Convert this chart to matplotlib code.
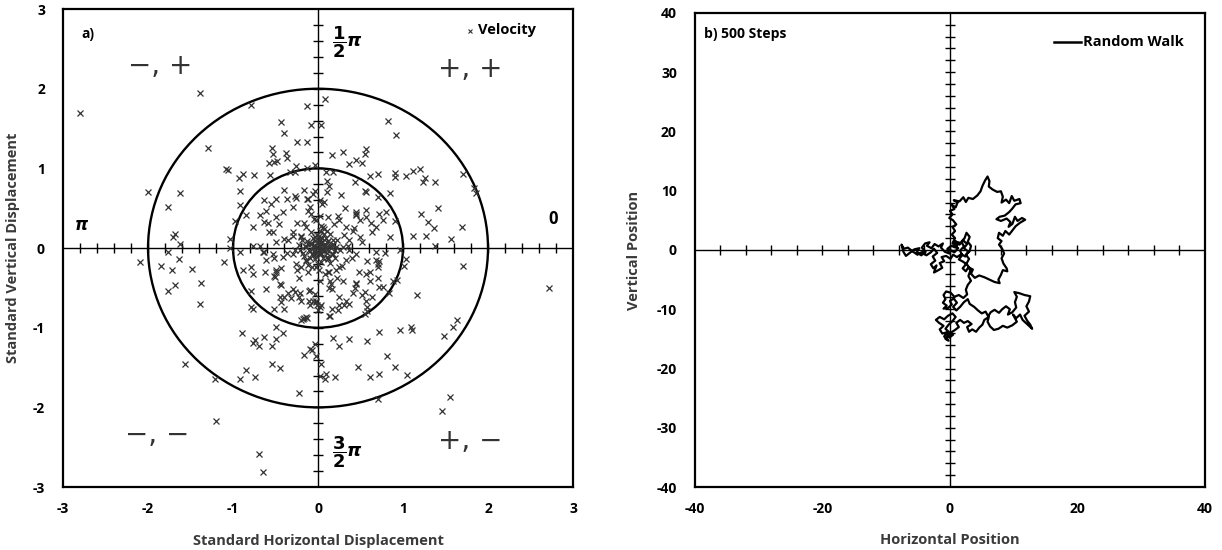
import numpy as np
import matplotlib.pyplot as plt
from matplotlib.patches import Circle

plt.rcParams['font.family'] = ['Open Sans', 'DejaVu Sans']
plt.rcParams['mathtext.fontset'] = 'dejavusans'

# a) standardised velocity samples (horizontal, vertical)
vel_x = [
    -2.80, -1.39, -0.79, -0.13, 0.08, -0.43, -0.40, -0.08, 0.04, 0.82, 0.92, -1.30, -0.25, -0.13,
    -0.54, -0.53, -0.52, -0.38, -0.37, -0.58, -0.48, 0.17, 0.29, 0.56, 0.55, 0.45, 0.36, 0.52,
    -0.04, -0.26, -1.08, -1.06, -0.93, -0.88, -0.75, -0.56, -0.33, -0.27, -0.13, 0.09, 0.18, 0.13,
    0.11, 0.43, 0.61, 0.70, 0.90, 0.90, 1.03, 1.12, 1.20, 1.23, 1.26, 1.38, 1.71, 1.83, 1.86,
    -2.00, -1.62, -1.77, -0.92, -0.92, -0.63, -0.49, -0.40, -0.27, -0.16, -0.13, -0.04, 0.07, 0.27,
    0.55, 0.56, 0.70, 0.85, 1.41, 1.21, 1.29, 1.37, 1.69, 1.57, 1.38, 1.27, 1.12, 0.90, 0.85, 0.72,
    0.57, 0.45, -0.98, -0.85, -0.76, -0.63, -1.03, -1.03, -1.68, -1.71, -1.62, -1.76, -2.09, -1.85,
    -1.72, -1.64, -1.48, -1.68, -1.76, -1.38, -1.39, -1.11, -0.92, -0.76, -0.65, -0.88, -0.79, -0.76,
    -0.79, -0.61, -0.52, -0.49, -0.45, -0.40, -0.44, -0.32, -0.27, -0.22, -0.11, -0.11, -0.02, -0.01,
    0.04, -0.79, -0.76, -0.52, -0.40, -0.16, -0.13, -0.20, 0.13, 0.16, 0.13, 0.22, 0.29, 0.45, 0.43,
    0.52, 0.63, 0.72, 0.76, 0.83, 0.88, 0.93, 0.70, 0.61, 0.70, 0.72, 0.79, 0.97, 1.03, 1.01, 1.71,
    1.17, 2.72, 0.25, 0.16, 0.13, 0.31, 0.36, 0.55, 0.58, 0.58, 0.57, -0.90, -0.74, -0.76, -0.63,
    -0.70, -0.54, -0.49, -0.50, -0.41, -0.54, -0.45, -0.85, -0.92, -0.74, -1.21, -1.56, -1.20, -0.70,
    -0.65, -0.22, -0.17, -0.10, -0.04, -0.07, -0.02, 0.04, 0.02, 0.09, 0.08, 0.20, 0.18, 0.25, 0.37,
    0.58, 0.72, 0.97, 1.09, 1.10, 0.81, 0.90, 0.47, 0.61, 0.72, 1.05, 0.70, 1.48, 1.59, 1.64, 1.55,
    1.46,
    -0.14, -0.25, -0.20, -0.29, -0.35, -0.49, -0.53, -0.41, -0.29, -0.21, -0.14, -0.08, -0.04, 0.02,
    0.06, 0.10, 0.02, -0.06, -0.14, -0.20, -0.25, -0.12, -0.02, 0.04, 0.12, 0.18, 0.21, 0.18, 0.14,
    0.06, -0.02, -0.08, -0.10, -0.12, -0.06, 0.02, 0.12, 0.25, 0.33, 0.41, 0.49, 0.37, 0.29, 0.37,
    0.45, 0.33, 0.25, 0.21, 0.12, 0.14, 0.02, -0.10, -0.21, -0.35, -0.45, -0.49, -0.51, -0.61, -0.64,
    -0.53, -0.59, -0.49, -0.41, -0.29, -0.37, -0.61, -0.68, 0.64, 0.68, 0.76, 0.80, 0.57, 0.49, 0.45,
    0.57, 0.61, 0.68, 0.70, 0.45, 0.41, 0.33, 0.23, 0.14, -0.02, 0.02, 0.00, -0.06, -0.20, -0.14,
    -0.18,
]
vel_y = [
    1.69, 1.95, 1.79, 1.78, 1.87, 1.58, 1.44, 1.54, 1.54, 1.60, 1.42, 1.25, 1.33, 1.33,
    1.25, 1.18, 1.08, 1.19, 1.13, 1.07, 1.09, 1.17, 1.20, 1.24, 1.18, 1.10, 1.05, 1.07,
    1.04, 1.03, 0.99, 0.98, 0.88, 0.93, 0.92, 0.92, 0.95, 0.96, 1.00, 0.95, 0.95, 0.78,
    0.84, 0.83, 0.91, 0.93, 0.94, 0.89, 0.91, 0.97, 0.99, 0.83, 0.88, 0.83, 0.93, 0.76, 0.69,
    0.70, 0.69, 0.52, 0.72, 0.54, 0.60, 0.62, 0.73, 0.65, 0.73, 0.62, 0.71, 0.58, 0.67,
    0.72, 0.70, 0.64, 0.69, 0.50, 0.43, 0.33, 0.25, 0.26, 0.11, 0.03, 0.15, 0.15, 0.34, 0.14, 0.43,
    0.48, 0.43, 0.34, 0.41, 0.27, 0.33, 0.11, 0.00, 0.18, 0.14, 0.05, -0.05, -0.18, -0.22,
    -0.27, -0.14, -0.26, -0.46, -0.54, -0.44, -0.70, -0.18, -0.05, 0.03, -0.05, -0.27, -0.24, -0.33,
    -0.54, -0.52, -0.35, -0.28, -0.45, -0.61, -0.68, -0.63, -0.55, -0.61, -0.54, -0.66, -0.66, -0.72,
    -0.71, -0.74, -0.77, -0.76, -0.76, -0.88, -0.88, -0.90, -0.50, -0.52, -0.30, -0.37, -0.41, -0.44, -0.50,
    -0.59, -0.61, -0.49, -0.49, -0.57, -0.41, -0.40, -0.37, -0.30, -0.24, -0.16, -0.06, -0.02, -0.14, -0.23, -0.23,
    -0.59, -0.50, -0.72, -0.77, -0.85, -0.72, -0.70, -0.83, -0.79, -0.74, -0.67, -1.07, -1.15, -1.19, -1.12,
    -1.23, -1.23, -1.14, -0.99, -1.07, -1.45, -1.51, -1.53, -1.65, -1.62, -1.65, -1.45, -2.17, -2.59,
    -2.81, -1.82, -1.34, -1.27, -1.21, -1.28, -1.35, -1.45, -1.60, -1.58, -1.64, -1.62, -1.13, -1.23, -1.14,
    -1.17, -1.05, -1.03, -0.99, -1.03, -1.36, -1.49, -1.49, -1.62, -1.58, -1.59, -1.89, -1.10, -0.99, -0.90, -1.87,
    -2.04,
    0.26, 0.31, 0.14, 0.20, 0.10, 0.08, -0.07, -0.11, -0.07, -0.03, 0.01, 0.05, 0.14, 0.10,
    0.03, -0.03, -0.07, -0.09, -0.15, -0.24, -0.28, -0.30, -0.24, -0.18, -0.13, -0.07, 0.01, 0.10, 0.18,
    0.26, 0.35, 0.43, 0.51, 0.62, 0.68, 0.60, 0.39, 0.35, 0.26, 0.22, 0.14, 0.10, 0.01, -0.03,
    -0.07, -0.15, -0.24, -0.28, -0.30, -0.41, -0.41, -0.53, -0.57, -0.57, -0.62, -0.30, -0.36, -0.15, -0.05,
    0.20, 0.31, 0.39, 0.45, 0.51, 0.62, 0.47, 0.41, 0.20, 0.26, 0.35, 0.45, 0.39, 0.35, 0.41,
    -0.32, -0.41, -0.15, -0.20, -0.45, -0.57, -0.66, -0.78, -0.85, -0.68, -0.74, -0.78, -0.66, -0.66, -0.87,
    -0.89,
]
# dense core of small velocities around the origin
vel_core = [
    (0.00, 0.00), (0.02, 0.03), (-0.03, 0.02), (0.05, -0.02), (-0.05, -0.04), (0.08, 0.05),
    (-0.08, 0.06), (0.03, -0.08), (-0.02, -0.10), (0.10, -0.06), (-0.11, -0.02), (0.12, 0.09),
    (-0.06, 0.12), (0.01, 0.15), (0.15, 0.00), (-0.15, 0.03), (0.06, -0.13), (-0.09, -0.12),
    (0.04, 0.08), (-0.01, -0.05), (0.09, 0.12), (-0.13, 0.09), (0.11, -0.11), (0.18, 0.05),
    (-0.18, -0.06), (0.02, 0.22), (0.00, -0.20), (0.20, -0.12), (-0.20, 0.15), (0.07, 0.18),
    (0.03, 0.06), (-0.04, 0.09), (0.07, -0.04), (-0.07, -0.07), (0.13, 0.02), (-0.12, 0.05),
    (0.05, 0.13), (-0.03, -0.14), (0.16, -0.08), (-0.16, -0.10), (0.22, 0.10), (-0.22, 0.04),
    (0.10, 0.22), (-0.08, 0.20), (0.14, -0.19), (-0.12, -0.21), (0.26, -0.03), (-0.27, -0.02),
    (0.04, 0.28), (0.01, -0.27), (0.30, 0.17), (-0.30, 0.15), (0.19, 0.30), (-0.17, 0.31),
    (0.28, -0.22), (-0.26, -0.20), (0.08, -0.33), (-0.05, 0.36), (0.35, 0.03), (-0.36, -0.06),
    (0.40, -0.12), (-0.40, 0.11), (0.23, 0.40), (-0.22, -0.38), (0.42, 0.25), (-0.43, -0.25),
    (0.15, -0.45), (-0.12, 0.46), (0.48, -0.30), (-0.46, 0.30), (0.52, 0.08), (-0.52, -0.12),
    (0.32, 0.50), (-0.30, -0.52), (0.05, 0.55), (-0.04, -0.58), (0.58, -0.16), (-0.58, 0.20),
    (0.45, 0.45), (-0.44, -0.46), (0.62, 0.32), (-0.62, -0.30), (0.25, -0.62), (-0.26, 0.63),
    (0.68, -0.05), (-0.68, 0.02), (0.10, 0.70), (-0.10, -0.72), (0.55, -0.55), (-0.55, 0.55),
    (0.02, 0.40), (0.00, 0.08), (0.06, -0.01), (-0.02, 0.01), (0.01, -0.03), (0.09, 0.01),
    (-0.06, 0.02), (0.04, -0.06), (-0.03, -0.06), (0.11, 0.07), (-0.10, -0.04), (0.02, 0.11),
    (-0.01, 0.16), (0.17, 0.04), (-0.14, -0.16), (0.20, -0.02), (-0.19, 0.10), (0.12, -0.14),
    (0.07, 0.24), (-0.07, -0.24),
]

# b) 2-D random walk path, 500 steps
walk_xy = [
    (0.0, 0.0), (0.7, -0.4), (1.3, 0.3), (0.6, 0.9), (1.4, 1.3), (0.9, 0.4), (0.2, 0.7), (-0.4, 0.2),
    (-0.1, -0.6), (-0.8, -0.3), (-1.4, 0.4), (-1.1, 1.1), (-1.8, 0.6), (-2.4, 1.0), (-2.9, 0.3),
    (-3.6, 0.7), (-3.2, 1.3), (-3.9, 1.1), (-4.4, 0.4), (-3.8, -0.3), (-4.5, -0.9), (-5.2, -0.4),
    (-4.8, 0.3), (-5.6, 0.1), (-6.3, -0.5), (-6.9, -1.0), (-7.3, -0.3), (-7.6, 0.9), (-7.2, 0.2),
    (-6.6, 0.4), (-5.9, -0.2), (-5.1, -0.8), (-4.3, -0.3), (-3.7, -0.9), (-3.0, -0.4), (-2.5, 0.2),
    (-2.0, -0.5), (-2.7, -1.1), (-2.3, -1.8), (-3.0, -2.4), (-2.6, -3.1), (-2.1, -2.6), (-2.5, -3.8),
    (-1.8, -3.4), (-1.2, -3.0), (-1.6, -2.2), (-0.9, -1.9), (-1.3, -1.2), (-0.6, -1.0), (0.1, -1.5),
    (0.5, -0.8), (1.1, -1.2), (1.8, -0.7), (2.4, -1.1), (2.9, -0.3), (2.2, 0.3), (2.7, 1.0),
    (2.1, 1.6), (1.5, 0.9), (0.9, 1.5), (0.4, 1.1), (0.8, 2.0), (0.3, 2.6),
    (0.8, 3.2), (0.4, 3.9), (1.0, 4.3), (0.5, 5.0), (-0.1, 5.4), (0.4, 6.0), (0.0, 6.6), (0.7, 6.9),
    (0.3, 7.6), (0.9, 7.2), (1.2, 8.0), (0.6, 8.4), (1.5, 8.2), (2.1, 8.9), (2.5, 8.1), (2.9, 8.8),
    (3.6, 8.6), (4.3, 9.2), (4.8, 9.9), (5.1, 10.8), (5.5, 11.7), (5.9, 12.4), (6.2, 11.6),
    (6.1, 10.7), (6.7, 10.2), (7.4, 9.8), (8.0, 9.9), (8.3, 9.0), (8.1, 8.0), (8.8, 8.5), (9.3, 7.9),
    (9.7, 9.1), (10.1, 8.3), (10.9, 8.6), (11.1, 7.9), (10.3, 7.7), (9.8, 7.0), (9.3, 6.4),
    (8.6, 5.8), (7.8, 5.6), (7.3, 5.2), (8.0, 4.9), (8.9, 5.3), (9.5, 4.7), (9.2, 3.9), (9.8, 4.4),
    (10.2, 5.6), (10.6, 4.9), (11.3, 5.4), (11.8, 5.1), (11.0, 4.6), (10.3, 4.0), (9.8, 3.3),
    (9.3, 2.6), (8.7, 3.2), (8.3, 2.4), (7.7, 2.9), (7.5, 2.0), (8.1, 1.5), (7.7, 0.9), (8.2, 0.2),
    (8.5, -0.6), (8.1, -1.4), (8.4, -2.3), (8.9, -3.1), (9.0, -3.6), (8.3, -3.4), (8.0, -4.2),
    (7.6, -5.0), (7.8, -5.6), (7.0, -5.4), (6.2, -5.0), (5.4, -4.6), (4.6, -4.3), (3.9, -4.7),
    (3.3, -4.0), (3.6, -3.3), (2.9, -2.9), (2.5, -3.6), (2.0, -3.1), (2.6, -2.3), (3.0, -1.5),
    (2.5, -0.8), (3.1, -0.2), (3.3, 0.7), (2.8, 1.4), (3.1, 2.2), (2.6, 2.9), (2.3, 2.0), (1.8, 1.4),
    (2.2, 0.6), (1.6, -0.1), (1.9, -0.9), (1.4, -1.6), (2.1, -2.0), (2.8, -2.6), (3.2, -3.5),
    (2.9, -4.4), (3.3, -5.2), (2.8, -5.9), (2.5, -6.7), (2.7, -7.5),
    (2.1, -8.1), (1.4, -7.6), (0.7, -7.9), (0.1, -7.2), (-0.6, -7.0), (-1.0, -7.6), (-0.7, -8.3),
    (-1.1, -8.9), (-0.5, -9.4), (-1.0, -9.9), (-0.3, -9.8), (0.3, -9.2), (0.0, -8.6), (0.6, -8.2),
    (1.1, -8.9), (0.5, -9.6), (1.0, -10.2), (1.6, -9.6), (2.2, -8.8), (2.8, -8.3), (3.1, -9.1),
    (3.8, -9.6), (4.4, -10.2), (5.0, -10.7), (5.6, -10.4), (6.0, -11.2), (6.4, -10.5), (7.0, -10.1),
    (7.7, -10.6), (8.2, -10.0), (8.8, -9.5), (9.4, -10.0), (9.1, -10.9), (9.8, -10.5), (10.4, -9.7),
    (10.2, -8.8), (10.5, -7.9), (10.1, -7.1), (10.9, -7.3), (11.7, -7.6), (12.6, -7.8), (12.4, -8.7),
    (12.0, -9.5), (12.4, -10.4), (11.7, -11.1), (12.1, -11.9), (12.6, -12.6), (12.9, -13.3),
    (12.1, -12.5), (11.4, -11.8), (11.0, -10.9), (10.4, -11.5), (9.9, -10.9), (10.5, -12.1),
    (9.8, -12.7), (9.0, -13.1), (8.3, -12.8), (7.6, -13.3), (6.9, -13.5), (6.3, -12.9), (5.9, -12.1),
    (6.1, -11.3), (5.4, -11.8), (5.1, -12.6), (4.6, -13.1), (4.1, -13.8), (3.5, -13.4), (3.0, -13.8),
    (2.7, -13.0), (3.4, -12.5), (2.8, -12.0), (2.2, -12.3), (1.6, -11.8), (1.0, -12.3), (1.4, -13.0),
    (0.8, -13.5), (0.2, -13.9), (-0.3, -14.5), (-0.7, -15.0), (-0.2, -15.3), (-0.9, -14.6),
    (-0.5, -13.9), (-1.2, -14.1), (-1.6, -13.4), (-1.0, -12.8), (-1.7, -12.3), (-2.2, -11.8),
    (-1.6, -11.3), (-0.9, -11.7), (-0.3, -11.1), (0.4, -10.7), (0.9, -11.3), (0.4, -12.0),
    (-0.2, -12.6), (-0.7, -13.3), (-0.1, -13.9), (0.5, -14.3), (-0.1, -14.8), (-0.5, -14.2),
]

core_x, core_y = zip(*vel_core)
walk_x, walk_y = zip(*walk_xy)

spine_w = 1.6
tick_font = dict(fontsize=10, fontweight='bold')
label_font = dict(fontsize=10.5, fontweight='bold', color='#3a3a3a')


def style_axes(ax, lim, ticks, xlabel, ylabel):
    ax.set_xlim(-lim, lim)
    ax.set_ylim(-lim, lim)
    ax.set_xticks(ticks)
    ax.set_yticks(ticks)
    ax.set_xticklabels([f'{t:g}' for t in ticks], **tick_font)
    ax.set_yticklabels([f'{t:g}' for t in ticks], **tick_font)
    ax.tick_params(axis='both', length=0)
    ax.tick_params(axis='x', pad=11)
    ax.tick_params(axis='y', pad=13)
    for s in ax.spines.values():
        s.set_linewidth(spine_w)
    ax.set_xlabel(xlabel, **label_font)
    ax.set_ylabel(ylabel, **label_font)
    ax.xaxis.set_label_coords(0.5, -0.098)


def cross_axes(ax, xt, yt):
    # axes through the origin with crossing tick marks
    ax.axhline(0, color='black', lw=1.0, zorder=1)
    ax.axvline(0, color='black', lw=1.0, zorder=1)
    ax.plot(xt, np.zeros_like(xt), ls='none', marker='|', ms=7, mew=1.0, color='black', zorder=1)
    ax.plot(np.zeros_like(yt), yt, ls='none', marker='_', ms=7, mew=1.0, color='black', zorder=1)


fig = plt.figure(figsize=(12.22, 5.5), dpi=100)

# ---- a) velocity scatter ----
ax1 = fig.add_axes([0.0516, 0.1145, 0.4173, 0.869])
style_axes(ax1, 3, [-3, -2, -1, 0, 1, 2, 3],
           'Standard Horizontal Displacement', 'Standard Vertical Displacement')
ax1.yaxis.set_label_coords(-0.085, 0.5)
grid02 = np.round(np.arange(-2.8, 2.81, 0.2), 1)
cross_axes(ax1, grid02, grid02)
for r in (1, 2):
    ax1.add_patch(Circle((0, 0), r, fill=False, lw=1.7, color='black', zorder=2))
ax1.plot(vel_x, vel_y, ls='none', marker='x', ms=4.5, mew=0.9, color='#333333', zorder=3)
ax1.plot(core_x, core_y, ls='none', marker='x', ms=4.5, mew=0.9, color='#333333', zorder=3)

ax1.text(-2.78, 2.69, 'a)', fontsize=10, fontweight='bold', va='center')
ax1.plot([1.79], [2.73], ls='none', marker='x', ms=3.5, mew=0.8, color='#333333')
ax1.text(1.88, 2.74, 'Velocity', fontsize=10.5, fontweight='bold', va='center')

ax1.text(0.17, 2.58, r'$\dfrac{\mathbf{1}}{\mathbf{2}}\mathbfit{\pi}$', fontsize=13, va='center')
ax1.text(0.17, -2.56, r'$\dfrac{\mathbf{3}}{\mathbf{2}}\mathbfit{\pi}$', fontsize=13, va='center')
ax1.text(-2.78, 0.29, 'π', family='DejaVu Sans', fontsize=12, fontweight='bold',
         fontstyle='italic', ha='center', va='center')
ax1.text(2.77, 0.37, '0', fontsize=12, fontweight='bold', ha='center', va='center')

quad_font = dict(family='DejaVu Sans', fontsize=20, color='#333333', ha='center', va='center')
ax1.text(-1.86, 2.29, '\u2212, +', **quad_font)
ax1.text(1.79, 2.25, '+, +', **quad_font)
ax1.text(-1.89, -2.35, '\u2212, \u2212', **quad_font)
ax1.text(1.79, -2.42, '+, \u2212', **quad_font)

# ---- b) random walk ----
ax2 = fig.add_axes([0.5687, 0.1145, 0.4173, 0.862])
style_axes(ax2, 40, [-40, -20, 0, 20, 40], 'Horizontal Position', 'Vertical Position')
ax2.set_yticks([-40, -30, -20, -10, 0, 10, 20, 30, 40])
ax2.set_yticklabels(['-40', '-30', '-20', '-10', '0', '10', '20', '30', '40'], **tick_font)
ax2.yaxis.set_label_coords(-0.105, 0.5)
cross_axes(ax2, np.arange(-36, 37, 4), np.arange(-38, 39, 2))
ax2.plot(walk_x, walk_y, color='black', lw=1.6, solid_joinstyle='round', zorder=3)

ax2.text(-38.6, 36.4, 'b) 500 Steps', fontsize=10, fontweight='bold', va='center')
ax2.plot([16.4, 20.6], [35.15, 35.15], color='black', lw=1.8)
ax2.text(20.8, 35.15, 'Random Walk', fontsize=10.5, fontweight='bold', va='center')

fig.savefig('out.png', dpi=100)
